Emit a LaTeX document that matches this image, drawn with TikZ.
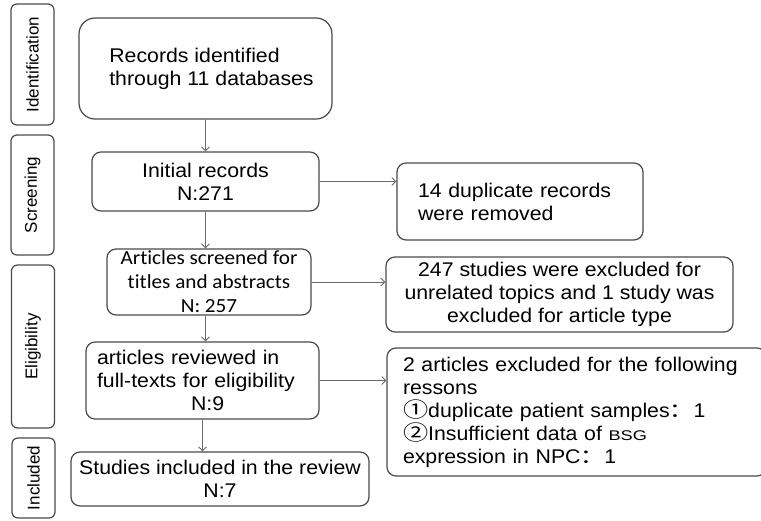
\documentclass[tikz,border=0pt]{standalone}
\usepackage{fontspec}
\setmainfont{Liberation Sans}[FakeStretch=1.075]
\newfontfamily\sidefont{Liberation Sans}
\newfontfamily\calfont{Carlito}[FakeStretch=1.06,Ligatures=NoCommon]
\newfontfamily\cjk{Noto Sans CJK SC}[FakeStretch=1.2]
\newfontfamily\bsgfont{Liberation Sans}[FakeStretch=1.3]
\usetikzlibrary{arrows.meta}
\definecolor{boxgray}{HTML}{4A4A4A}
\definecolor{arrgray}{HTML}{6A6A6A}
\tikzset{
  box/.style={draw=boxgray, line width=1.2pt, rounded corners=9pt, inner sep=0pt,
    font=\fontsize{19.8}{23}\selectfont, text=black},
  side/.style={draw=boxgray, line width=1.2pt, rounded corners=6pt, inner sep=0pt,
    rotate=90, font=\sidefont\fontsize{17}{20}\selectfont, minimum height=43pt},
  arr/.style={draw=arrgray, line width=0.9pt, -{Straight Barb[length=4pt,width=8pt]}}
}
\begin{document}
\begin{tikzpicture}[x=1pt,y=-1pt]
\useasboundingbox (0,0) rectangle (761,520);
% side labels
\node[side, minimum width=121pt] (sid) at (32.5,64.5) {Identification};
\node[side, minimum width=120pt] (ssc) at (32.5,195) {Screening};
\node[side, minimum width=163pt] (sel) at (33,346.5) {Eligibility};
\node[side, minimum width=80pt] (sin) at (33.5,478) {Included};
% main column
\node[box, rounded corners=16pt, minimum width=253pt, minimum height=101pt, align=left]
  (rec) at (205.5,68.5) {\hspace*{12pt}Records identified\\\hspace*{12pt}through 11 databases};
\node[box, minimum width=227pt, minimum height=59pt, align=center]
  (ini) at (205.5,181.5) {Initial records\\N:271};
\node[box, minimum width=204pt, minimum height=66pt, align=center,
  font=\calfont\fontsize{20}{24}\selectfont]
  (scr) at (209,282) {Articles screened for\\titles and abstracts\\N: 257};
\node[box, minimum width=233pt, minimum height=77pt, text width=211pt, inner xsep=11pt, align=left]
  (rev) at (202.5,380.5) {articles reviewed in\\full-texts for eligibility\\\hspace*{94pt}N:9};
\node[box, minimum width=298pt, minimum height=54pt, align=center]
  (stu) at (220,479) {Studies included in the review\\N:7};
% right column
\node[box, minimum width=246pt, minimum height=77pt, text width=204pt, inner xsep=21pt, align=left]
  (dup) at (520,201.5) {14 duplicate records\\were removed};
\node[box, minimum width=347pt, minimum height=75pt, align=center]
  (exa) at (559.5,294.5) {247 studies were excluded for\\unrelated topics and 1 study was\\excluded for article type};
\node[box, minimum width=379pt, minimum height=128pt, text width=347pt, inner xsep=16pt, align=left]
  (exb) at (576.5,412) {2 articles excluded for the following\\ressons\\{\cjk\fontsize{21}{23}\selectfont ①}duplicate patient samples{\cjk ：}1\\{\cjk\fontsize{21}{23}\selectfont ②}Insufficient data of {\bsgfont\fontsize{14}{23}\selectfont BSG}\\expression in NPC{\cjk ：}1};
% connectors
\draw[arr] (rec.south) -- (ini.north);
\draw[arr] (ini.south) -- (ini.south |- scr.north);
\draw[arr] (scr.south -| ini.south) -- (ini.south |- rev.north);
\draw[arr] (rev.south) -- (rev.south |- stu.north);
\draw[arr] (ini.east) -- (ini.east -| dup.west);
\draw[arr] (scr.east) -- (scr.east -| exa.west);
\draw[arr] (rev.east) -- (rev.east -| exb.west);
\end{tikzpicture}
\end{document}
